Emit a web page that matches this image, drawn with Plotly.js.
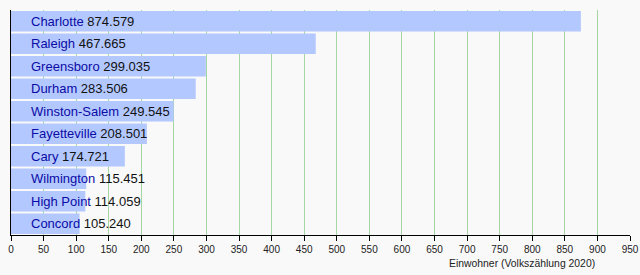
<!DOCTYPE html>
<html><head><meta charset="utf-8">
<script src="https://cdn.plot.ly/plotly-3.0.1.min.js"></script>
<style>html,body{margin:0;padding:0;background:#f9f9f9;}#c{width:640px;height:275px;}</style>
</head><body><div id="c"></div>
<script>
const cities = ["Charlotte","Raleigh","Greensboro","Durham","Winston-Salem","Fayetteville","Cary","Wilmington","High Point","Concord"];
const population = [874.579,467.665,299.035,283.506,249.545,208.501,174.721,115.451,114.059,105.240];
const tickValues = [0,50,100,150,200,250,300,350,400,450,500,550,600,650,700,750,800,850,900,950];
const axisTitle = "Einwohner (Volkszählung 2020)";

const trace = {
  type: 'bar', orientation: 'h',
  x: population, y: cities,
  marker: {color: '#b3c8ff', line: {width: 0}},
  hoverinfo: 'none'
};
const annotations = cities.map((c, i) => ({
  x: 0, y: c, xref: 'x', yref: 'y', xanchor: 'left', yanchor: 'middle',
  xshift: 18, showarrow: false,
  text: '<span style="color:#0b0ba6">' + c + '</span> ' + population[i].toFixed(3),
  font: {family: 'Liberation Sans, Arial, sans-serif', size: 13, color: '#111'}
}));
annotations.push({
  x: 0.826, xref: 'paper', y: 0, yref: 'paper', yshift: -28, xanchor: 'center', yanchor: 'middle',
  showarrow: false, text: axisTitle,
  font: {family: 'Liberation Sans, Arial, sans-serif', size: 10.4, color: '#222'}
});
const layout = {
  width: 640, height: 275,
  margin: {l: 11, r: 10, t: 10, b: 40},
  paper_bgcolor: '#f9f9f9', plot_bgcolor: '#f9f9f9',
  bargap: 0.08,
  showlegend: false,
  xaxis: {
    range: [0, 950], tickvals: tickValues, ticktext: tickValues.map(String),
    showgrid: true, gridcolor: '#a3d6a3', gridwidth: 1, zeroline: false,
    showline: true, linecolor: '#000', linewidth: 1,
    ticks: 'outside', ticklen: 5, tickcolor: '#000',
    tickfont: {family: 'Liberation Sans, Arial, sans-serif', size: 10, color: '#222'},
    fixedrange: true
  },
  yaxis: {
    categoryorder: 'array', categoryarray: cities, autorange: 'reversed',
    showticklabels: false, showgrid: false, zeroline: false,
    showline: true, linecolor: '#000', linewidth: 1, ticks: '',
    fixedrange: true
  },
  annotations: annotations
};
Plotly.newPlot('c', [trace], layout, {displayModeBar: false, staticPlot: true});
</script></body></html>
